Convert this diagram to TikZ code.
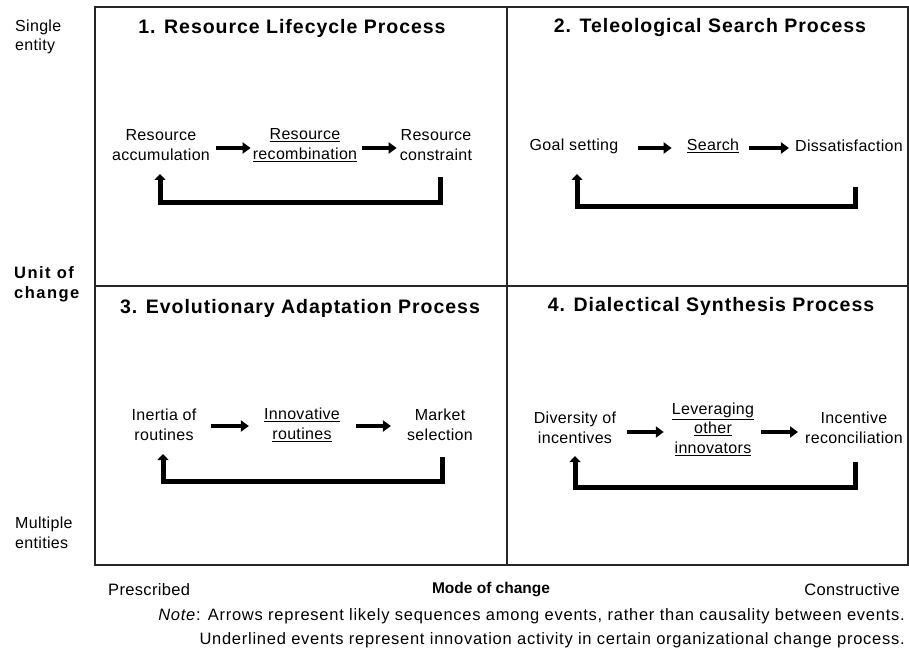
\documentclass[tikz,border=0pt]{standalone}
\usepackage{fontspec}
\setmainfont{Liberation Sans}
\newfontfamily\bodyfont[LetterSpace=2]{Liberation Sans}
\newfontfamily\titlefont[LetterSpace=5]{Liberation Sans}
\newfontfamily\widebold[LetterSpace=9]{Liberation Sans}
\newfontfamily\notefont[LetterSpace=4.5]{Liberation Sans}
\usetikzlibrary{arrows.meta}
\begin{document}
\begin{tikzpicture}[x=1pt,y=-1pt,
  ev/.style={font=\bodyfont\fontsize{16}{19.5}\selectfont, align=center, inner sep=0pt},
  ttl/.style={font=\titlefont\bfseries\fontsize{19.5}{22}\selectfont, inner sep=0pt},
  side/.style={font=\bodyfont\fontsize{16}{19.5}\selectfont, align=left, inner sep=0pt, anchor=west},
  note/.style={font=\notefont\fontsize{16.5}{19}\selectfont, inner sep=0pt, anchor=east},
  fw/.style={line width=4, -{Triangle[length=8,width=11]}},
  fb/.style={line width=5, line join=miter, -{Triangle[length=6,width=11]}},
  frame/.style={line width=1.6, draw=black!85}
]
\useasboundingbox (0,0) rectangle (909,660);
% frame
\draw[frame] (95,7) rectangle (908,565);
\draw[frame] (507,7) -- (507,565);
\draw[frame] (95,286) -- (908,286);

% titles
\node[ttl] (t1) at (292,28) {1. Resource Lifecycle Process};
\node[ttl] (t2) at (710,28) {2. Teleological Search Process};
\node[ttl] (t3) at (300,308) {3. Evolutionary Adaptation Process};
\node[ttl] (t4) at (711,306) {4. Dialectical Synthesis Process};

% Q1
\node[ev] (a1) at (161,145) {Resource\\accumulation};
\node[ev] (b1) at (305,145) {\underline{Resource}\\\underline{recombination}};
\node[ev] (c1) at (436,145) {Resource\\constraint};
\draw[fw, shorten <=6, shorten >=2] ([yshift=-3]a1.east) -- ([yshift=-3]b1.west);
\draw[fw, shorten <=5, shorten >=3] ([yshift=-3]b1.east) -- ([yshift=-3]c1.west);
\coordinate (q1r) at (440,177);
\coordinate (q1br) at (440,203);
\coordinate (q1bl) at (160,203);
\coordinate (q1l) at (160,174);
\draw[fb] (q1r) -- (q1br) -- (q1bl) -- (q1l);

% Q2
\node[ev] (a2) at (574,146) {Goal setting};
\node[ev] (b2) at (713,146) {\underline{Search}};
\node[ev] (c2) at (849,146) {Dissatisfaction};
\draw[fw, shorten <=19, shorten >=15] ([yshift=-2]a2.east) -- ([yshift=-2]b2.west);
\draw[fw, shorten <=10, shorten >=6] ([yshift=-2]b2.east) -- ([yshift=-2]c2.west);
\coordinate (q2r) at (855,187);
\coordinate (q2br) at (855,207);
\coordinate (q2bl) at (577,207);
\coordinate (q2l) at (577,174);
\draw[fb] (q2r) -- (q2br) -- (q2bl) -- (q2l);

% Q3
\node[ev] (a3) at (164,425) {Inertia of\\routines};
\node[ev] (b3) at (302,425) {\underline{Innovative}\\\underline{routines}};
\node[ev] (c3) at (440,425) {Market\\selection};
\draw[fw, shorten <=14, shorten >=15] ([yshift=-1]a3.east) -- ([yshift=-1]b3.west);
\draw[fw, shorten <=16, shorten >=16] ([yshift=-1]b3.east) -- ([yshift=-1]c3.west);
\coordinate (q3r) at (442,457);
\coordinate (q3br) at (442,481);
\coordinate (q3bl) at (163,481);
\coordinate (q3l) at (163,454);
\draw[fb] (q3r) -- (q3br) -- (q3bl) -- (q3l);

% Q4
\node[ev] (a4) at (575,428) {Diversity of\\incentives};
\node[ev] (b4) at (713,429) {\underline{Leveraging}\\\underline{other}\\\underline{innovators}};
\node[ev] (c4) at (854,428) {Incentive\\reconciliation};
\draw[fw, shorten <=11, shorten >=8] ([yshift=-4]a4.east) -- ([yshift=-3]b4.west);
\draw[fw, shorten <=7, shorten >=7] ([yshift=-3]b4.east) -- ([yshift=-4]c4.west);
\coordinate (q4r) at (855,462);
\coordinate (q4br) at (855,487);
\coordinate (q4bl) at (575,487);
\coordinate (q4l) at (575,456);
\draw[fb] (q4r) -- (q4br) -- (q4bl) -- (q4l);

% side labels
\node[side] (s1) at (15,37) {Single\\entity};
\node[side, font=\widebold\bfseries\fontsize{16.5}{20}\selectfont] (s2) at (14,284) {Unit of\\change};
\node[side] (s3) at (15,533) {Multiple\\entities};

% bottom labels
\node[side, font=\bodyfont\fontsize{16.5}{19}\selectfont] (m1) at (108,590) {Prescribed};
\node[ev, font=\bfseries\fontsize{15.5}{18}\selectfont] (m2) at (491,590) {Mode of change};
\node[ev, anchor=east, font=\bodyfont\fontsize{16.5}{19}\selectfont] (m3) at (900,590) {Constructive};

\node[note] (n1) at (905,616) {\textit{Note}: Arrows represent likely sequences among events, rather than causality between events.};
\node[note] (n2) at (905,640) {Underlined events represent innovation activity in certain organizational change process.};
\end{tikzpicture}
\end{document}
